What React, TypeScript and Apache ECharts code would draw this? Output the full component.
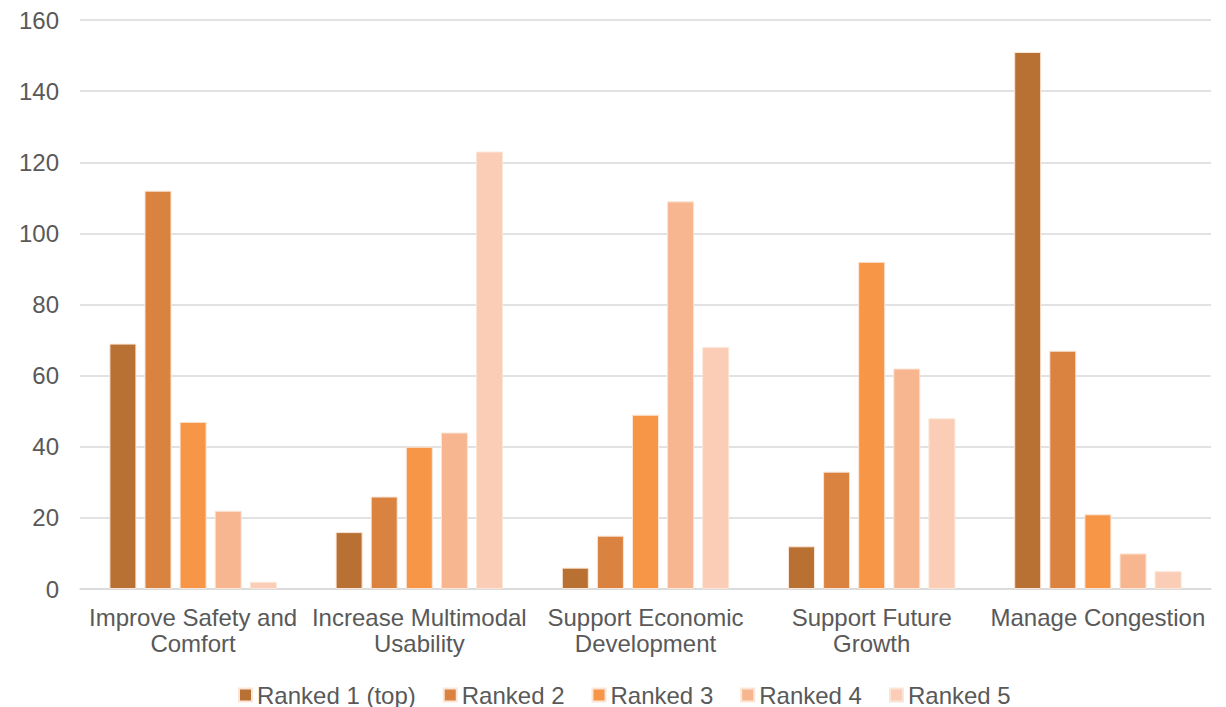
import React, { useEffect, useRef } from "react";
import * as echarts from "echarts";

const categories = [
  "Improve Safety and\nComfort",
  "Increase Multimodal\nUsability",
  "Support Economic\nDevelopment",
  "Support Future\nGrowth",
  "Manage Congestion",
];
const seriesNames = ["Ranked 1 (top)", "Ranked 2", "Ranked 3", "Ranked 4", "Ranked 5"];
const ranked1 = [69, 16, 6, 12, 151];
const ranked2 = [112, 26, 15, 33, 67];
const ranked3 = [47, 40, 49, 92, 21];
const ranked4 = [22, 44, 109, 62, 10];
const ranked5 = [2, 123, 68, 48, 5];
const colors = ["#B87033", "#DA823F", "#F79647", "#F8B690", "#FBCDB6"];

export default function App() {
  const ref = useRef<HTMLDivElement>(null);
  useEffect(() => {
    if (!ref.current) return;
    const chart = echarts.init(ref.current, undefined, { renderer: "svg" });
    const data = [ranked1, ranked2, ranked3, ranked4, ranked5];
    chart.setOption({
      animation: false,
      textStyle: { fontFamily: "Liberation Sans, Arial, sans-serif" },
      grid: { left: 72, right: 7, top: 12, bottom: 118 },
      legend: {
        bottom: 0,
        left: 230,
        padding: 0,
        itemWidth: 13,
        itemHeight: 13,
        itemGap: 27,
        icon: "rect",
        textStyle: { fontSize: 24, color: "#595959", padding: [0, 0, 0, 0] },
        data: seriesNames,
      },
      xAxis: {
        type: "category",
        data: categories,
        axisLine: { lineStyle: { color: "#D9D9D9", width: 1.5 } },
        axisTick: { show: false },
        axisLabel: { fontSize: 24, color: "#595959", lineHeight: 26, margin: 15, interval: 0 },
      },
      yAxis: {
        type: "value",
        min: 0,
        max: 160,
        interval: 20,
        axisLine: { show: false },
        axisTick: { show: false },
        axisLabel: { fontSize: 24, color: "#595959", margin: 21 },
        splitLine: { lineStyle: { color: "#D9D9D9", width: 1.5 } },
      },
      series: seriesNames.map((name, i) => ({
        name,
        type: "bar",
        data: data[i],
        barWidth: 27,
        barGap: "30%",
        itemStyle: { color: colors[i], borderColor: "#FBE5D6", borderWidth: 1 },
      })),
    });
    return () => chart.dispose();
  }, []);
  return <div ref={ref} style={{ width: 1210, height: 699 }} />;
}
